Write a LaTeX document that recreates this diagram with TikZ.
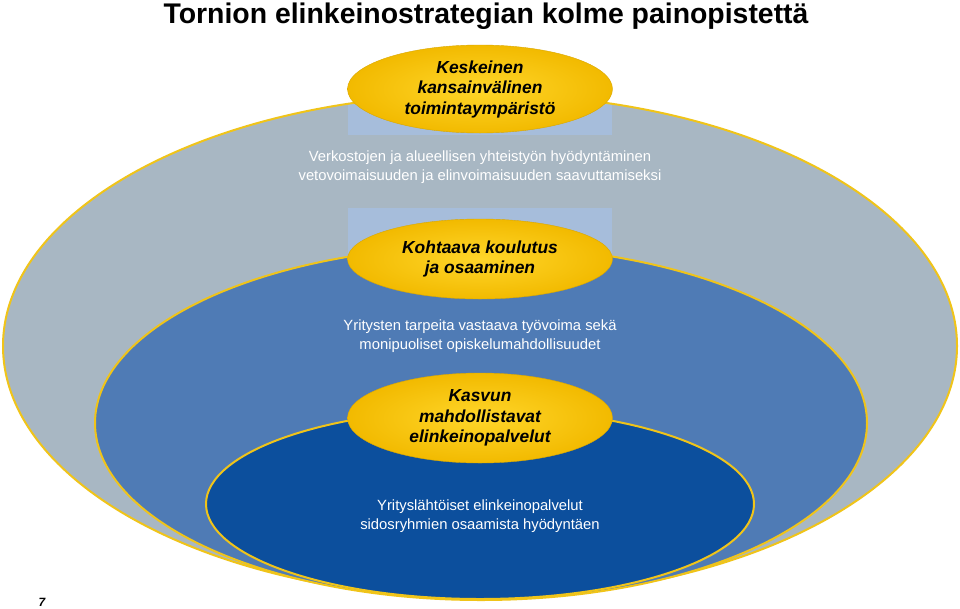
\documentclass[tikz,border=0pt]{standalone}
\usepackage{fontspec}
\setmainfont{Liberation Sans}
\usetikzlibrary{shapes.geometric}
\definecolor{outergrey}{HTML}{A8B7C3}
\definecolor{midblue}{HTML}{4F7BB5}
\definecolor{innerblue}{HTML}{0C4F9D}
\definecolor{lightrect}{HTML}{A6BDDB}
\definecolor{rimyellow}{HTML}{F0C419}
\definecolor{goldin}{HTML}{FFD62A}
\definecolor{goldout}{HTML}{F2BA00}
\tikzset{
  ring/.style={draw=rimyellow, line width=2pt},
  goldoval/.style={ellipse, minimum width=265pt, minimum height=#1, inner sep=0pt,
    inner color=goldin, outer color=goldout, draw=goldout!90!black, line width=0.4pt,
    align=center, font=\fontsize{17.4}{20.5}\selectfont\bfseries\itshape, text=black},
  bodytext/.style={align=center, text=white, font=\fontsize{14.8}{19}\selectfont},
}
\begin{document}
\begin{tikzpicture}[x=1pt,y=-1pt]
\useasboundingbox (0,0) rectangle (960,608);
\fill[white] (0,0) rectangle (960,608);
% outer ellipse
\path[fill=outergrey] (480,346) ellipse [x radius=477, y radius=252];
\begin{scope}
  \clip (480,346) ellipse [x radius=477, y radius=252];
  \fill[lightrect] (348,60) rectangle (612,135);
  \fill[lightrect] (348,208) rectangle (612,300);
\end{scope}
\draw[ring] (480,346) ellipse [x radius=477, y radius=252];
% middle ellipse
\draw[ring, fill=midblue] (481,423) ellipse [x radius=386, y radius=177];
% inner ellipse
\draw[ring, fill=innerblue] (480,504) ellipse [x radius=274, y radius=95];
% gold ovals
\node[goldoval=88pt] (k1) at (480,89) {Keskeinen\\kansainvälinen\\toimintaympäristö};
\node[goldoval=80pt] (k2) at (480,259) {Kohtaava koulutus\\ja osaaminen};
\node[goldoval=90pt] (k3) at (480,418) {Kasvun\\mahdollistavat\\elinkeinopalvelut};
% texts
\node[bodytext] (t1) at (480,167) {Verkostojen ja alueellisen yhteistyön hyödyntäminen\\vetovoimaisuuden ja elinvoimaisuuden saavuttamiseksi};
\node[bodytext] (t2) at (480,336) {Yritysten tarpeita vastaava työvoima sekä\\monipuoliset opiskelumahdollisuudet};
\node[bodytext] (t3) at (480,516) {Yrityslähtöiset elinkeinopalvelut\\sidosryhmien osaamista hyödyntäen};
\node[anchor=base, font=\fontsize{28.4}{30}\selectfont\bfseries] (title) at (486,23) {Tornion elinkeinostrategian kolme painopistettä};
\node[anchor=base, font=\fontsize{12}{12}\selectfont\bfseries\itshape] (num) at (42,606) {7};
\end{tikzpicture}
\end{document}
